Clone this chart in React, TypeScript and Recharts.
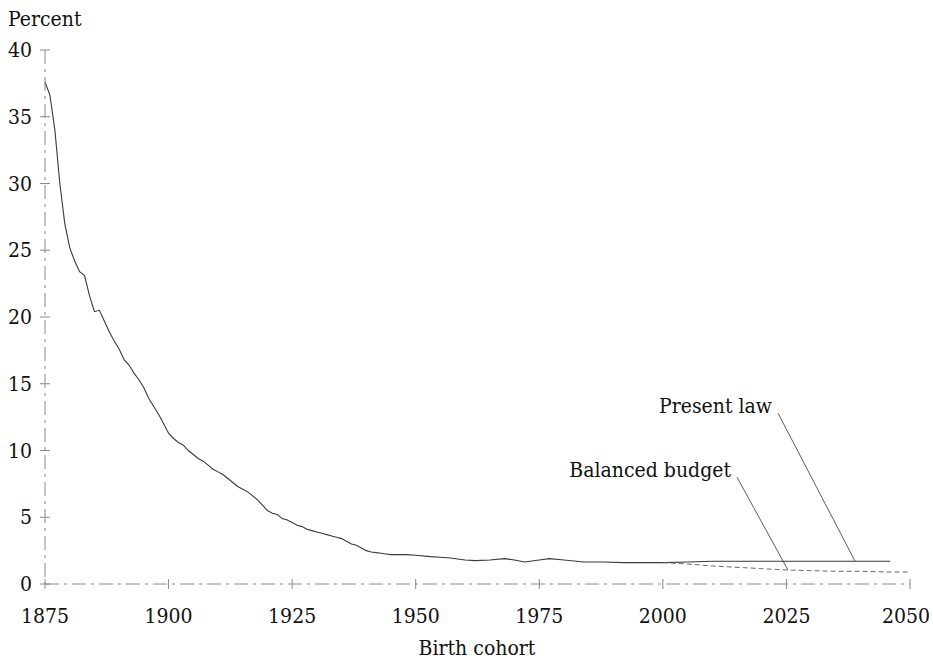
import React from "react";
import {
  LineChart,
  Line,
  XAxis,
  YAxis,
  ReferenceLine,
  ReferenceDot,
} from "recharts";

// birth cohorts and their rates
const YEARS = [
  1875, 1876, 1877, 1878, 1879, 1880, 1881, 1882, 1883, 1884, 1885, 1886, 1887,
  1888, 1889, 1890, 1891, 1892, 1893, 1894, 1895, 1896, 1897, 1898, 1899, 1900,
  1901, 1902, 1903, 1904, 1905, 1906, 1907, 1908, 1909, 1910, 1911, 1912, 1913,
  1914, 1915, 1916, 1917, 1918, 1919, 1920, 1921, 1922, 1923, 1924, 1925, 1926,
  1927, 1928, 1929, 1930, 1931, 1932, 1933, 1934, 1935, 1936, 1937, 1938, 1939,
  1940, 1941, 1942, 1943, 1944, 1945, 1948, 1950, 1953, 1955, 1957, 1960, 1962,
  1965, 1968, 1970, 1972, 1975, 1977, 1980, 1984, 1988, 1992, 1996, 2000, 2005,
  2010, 2015, 2020, 2025, 2030, 2035, 2040, 2046,
];

const PRESENT_LAW = [
  37.6, 36.6, 34.0, 30.0, 27.0, 25.2, 24.2, 23.4, 23.1, 21.6, 20.4, 20.5, 19.7,
  18.9, 18.2, 17.6, 16.8, 16.4, 15.8, 15.3, 14.7, 13.9, 13.3, 12.7, 12.0, 11.3,
  10.9, 10.6, 10.4, 10.0, 9.7, 9.4, 9.2, 8.9, 8.6, 8.4, 8.2, 7.9, 7.6,
  7.3, 7.1, 6.9, 6.6, 6.3, 5.9, 5.5, 5.3, 5.2, 4.9, 4.8, 4.6, 4.4,
  4.3, 4.1, 4.0, 3.9, 3.8, 3.7, 3.6, 3.5, 3.4, 3.2, 3.0, 2.9, 2.7,
  2.5, 2.4, 2.35, 2.3, 2.25, 2.2, 2.2, 2.15, 2.05, 2.0, 1.95, 1.8, 1.75,
  1.8, 1.9, 1.8, 1.65, 1.8, 1.9, 1.8, 1.65, 1.65, 1.6, 1.6, 1.6, 1.65,
  1.7, 1.7, 1.7, 1.7, 1.7, 1.7, 1.7, 1.7,
];

const BALANCED_YEARS = [2000, 2005, 2010, 2015, 2020, 2025, 2030, 2035, 2040, 2046, 2050];
const BALANCED_BUDGET = [1.6, 1.5, 1.35, 1.25, 1.15, 1.05, 1.0, 0.95, 0.95, 0.9, 0.9];

const X_TICKS = [1875, 1900, 1925, 1950, 1975, 2000, 2025, 2050];
const Y_TICKS = [0, 5, 10, 15, 20, 25, 30, 35, 40];

const presentLawData = YEARS.map((year, i) => ({ year, value: PRESENT_LAW[i] }));
const balancedData = BALANCED_YEARS.map((year, i) => ({ year, value: BALANCED_BUDGET[i] }));

const AXIS_GREY = "#8a8a8a";
const textStyle: React.CSSProperties = {
  fontFamily: "'DejaVu Serif Condensed', 'DejaVu Serif', serif",
  fontStretch: "condensed",
  fontSize: 21,
  fill: "#111",
};

const YTick = (props: any) => {
  const { x, y, payload } = props;
  return (
    <g>
      <line x1={x - 5} x2={x + 5} y1={y} y2={y} stroke={AXIS_GREY} strokeWidth={1} />
      <text x={x - 13} y={y + 7} textAnchor="end" style={textStyle}>
        {payload.value}
      </text>
    </g>
  );
};

const XTick = (props: any) => {
  const { x, y, payload } = props;
  return (
    <g>
      <line x1={x} x2={x} y1={y - 5} y2={y + 5} stroke={AXIS_GREY} strokeWidth={1} />
      <text x={Math.min(x, 906)} y={y + 39} textAnchor="middle" style={textStyle}>
        {payload.value}
      </text>
    </g>
  );
};

const labelShape = (text: string) => (p: any) => (
  <text x={p.cx - 6} y={p.cy} textAnchor="end" style={textStyle}>
    {text}
  </text>
);

export default function App() {
  return (
    <div style={{ position: "absolute", top: 0, left: 0, width: 933, height: 664, background: "#fff" }}>
      <LineChart width={933} height={664} margin={{ top: 50, right: 23, bottom: 10, left: 0 }}>
        <XAxis
          type="number"
          dataKey="year"
          domain={[1875, 2050]}
          ticks={X_TICKS}
          interval={0}
          height={70}
          tickSize={0}
          tickMargin={0}
          tickLine={false}
          tick={<XTick />}
          axisLine={{ stroke: AXIS_GREY, strokeDasharray: "14 5 3 5" }}
          label={{
            content: () => (
              <text x={477} y={655} textAnchor="middle" style={textStyle}>
                Birth cohort
              </text>
            ),
          }}
        />
        <YAxis
          type="number"
          domain={[0, 40]}
          ticks={Y_TICKS}
          interval={0}
          width={45}
          tickSize={0}
          tickMargin={0}
          tickLine={false}
          tick={<YTick />}
          axisLine={{ stroke: AXIS_GREY, strokeDasharray: "14 5 3 5" }}
          label={{
            content: () => (
              <text x={8} y={26} style={textStyle}>
                Percent
              </text>
            ),
          }}
        />
        <Line
          data={presentLawData}
          dataKey="value"
          type="linear"
          stroke="#3a3a3a"
          strokeWidth={1.1}
          dot={false}
          isAnimationActive={false}
        />
        <Line
          data={balancedData}
          dataKey="value"
          type="linear"
          stroke="#6a6a6a"
          strokeWidth={1}
          strokeDasharray="5 3"
          dot={false}
          isAnimationActive={false}
        />
        <ReferenceLine
          segment={[
            { x: 2023.3, y: 12.8 },
            { x: 2038.9, y: 1.7 },
          ]}
          stroke="#333"
          strokeWidth={0.8}
        />
        <ReferenceLine
          segment={[
            { x: 2015.0, y: 8.0 },
            { x: 2025.3, y: 1.05 },
          ]}
          stroke="#333"
          strokeWidth={0.8}
        />
        <ReferenceDot x={2023.3} y={12.8} r={0} shape={labelShape("Present law")} />
        <ReferenceDot x={2015.0} y={8.0} r={0} shape={labelShape("Balanced budget")} />
      </LineChart>
    </div>
  );
}
